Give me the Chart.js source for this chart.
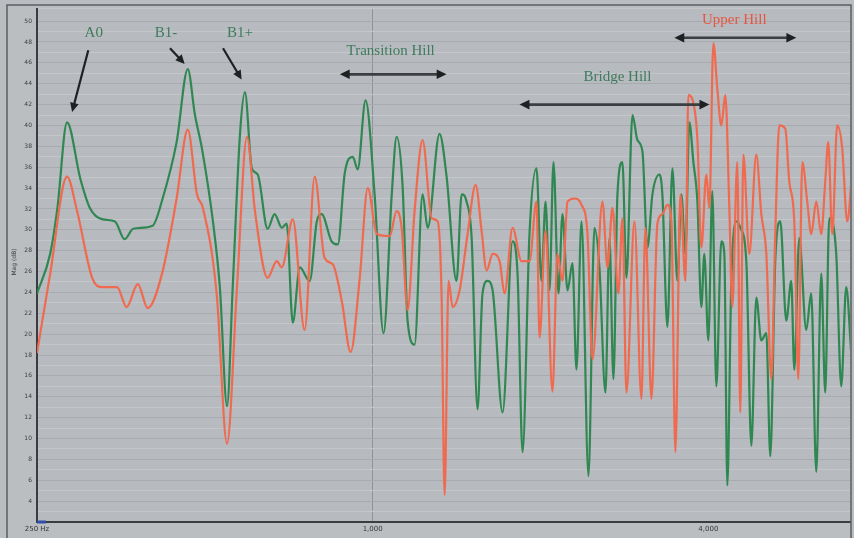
<!DOCTYPE html>
<html>
<head>
<meta charset="utf-8">
<script src="https://cdn.jsdelivr.net/npm/chart.js@4.4.1/dist/chart.umd.min.js"></script>
<style>
  html, body { margin: 0; padding: 0; background: #bbbec1; }
  #wrap { width: 854px; height: 538px; }
</style>
</head>
<body>
<div id="wrap"><canvas id="chartOne" width="854" height="538"></canvas></div>
<script>
"use strict";

// green trace
let greenHz = [250, 264, 272, 283, 299, 311, 328, 345, 359, 372, 403, 420, 445, 466, 480, 494,
  517, 532, 548, 561, 578, 590, 607, 622, 648, 667, 687, 701, 719, 740, 771, 794, 810, 844, 866,
  891, 921, 940, 971, 1008, 1046, 1082, 1104, 1132, 1155, 1189, 1229, 1255, 1318, 1357, 1414,
  1444, 1474, 1505, 1542, 1574, 1607, 1641, 1710, 1782, 1819, 1857, 1911, 1967, 2008, 2042, 2076,
  2110, 2154, 2190, 2236, 2282, 2320, 2369, 2438, 2499, 2551, 2615, 2659, 2703, 2748, 2805, 2852,
  2924, 2984, 3047, 3110, 3175, 3268, 3308, 3378, 3448, 3520, 3578, 3638, 3698, 3760, 3823, 3886,
  3934, 4000, 4066, 4134, 4220, 4273, 4326, 4398, 4490, 4564, 4679, 4777, 4876, 4978, 5082, 5166,
  5273, 5384, 5519, 5634, 5704, 5823, 5993, 6118, 6246, 6376, 6482, 6590, 6783, 6924, 7069, 7216];
let greenDb = [23.9, 27.7, 32.1, 40.3, 34.9, 32.1, 31.0, 30.8, 29.1, 30.1, 30.4, 33.0, 38.4, 45.4,
  41.0, 37.8, 30.8, 24.5, 13.1, 24.5, 39.1, 43.2, 35.9, 35.3, 30.1, 31.5, 30.2, 30.6, 21.1, 26.4,
  25.1, 30.8, 31.5, 28.9, 28.6, 35.4, 37.0, 35.8, 42.4, 33.4, 20.1, 33.4, 38.9, 34.0, 21.3, 19.0,
  33.4, 30.2, 39.2, 35.1, 25.1, 33.4, 32.7, 29.2, 12.8, 23.9, 25.1, 24.2, 12.5, 28.9, 25.8, 8.7,
  29.6, 35.9, 25.1, 32.7, 24.2, 36.5, 23.9, 31.5, 24.2, 26.8, 16.6, 30.8, 6.4, 30.2, 26.4, 14.4,
  29.2, 15.7, 33.4, 36.5, 25.4, 41.0, 38.6, 37.5, 28.3, 33.4, 35.3, 33.4, 20.7, 35.9, 25.1, 33.4,
  27.7, 40.3, 36.5, 32.7, 22.6, 27.7, 19.4, 33.7, 15.0, 28.9, 27.7, 5.5, 25.1, 30.8, 30.2, 27.0,
  9.3, 23.5, 19.4, 20.1, 8.3, 27.0, 30.8, 21.3, 25.1, 16.6, 29.2, 20.4, 23.9, 6.8, 25.8, 14.4,
  31.1, 27.7, 15.0, 24.5, 18.2];

// red trace
let redHz = [250, 264, 283, 295, 314, 328, 348, 362, 379, 395, 419, 445, 466, 484, 496, 525, 548,
  571, 595, 615, 648, 673, 687, 719, 755, 787, 820, 848, 880, 913, 948, 980, 1017, 1073, 1104,
  1127, 1155, 1189, 1229, 1276, 1308, 1329, 1346, 1368, 1391, 1432, 1480, 1530, 1568, 1601, 1641,
  1689, 1724, 1782, 1849, 1911, 1967, 1992, 2042, 2101, 2145, 2190, 2236, 2301, 2369, 2428, 2479,
  2583, 2637, 2692, 2759, 2805, 2852, 2948, 3034, 3084, 3162, 3241, 3308, 3378, 3434, 3491, 3564,
  3638, 3683, 3745, 3823, 3886, 3967, 4017, 4084, 4151, 4220, 4290, 4362, 4416, 4508, 4564, 4622,
  4737, 4876, 4978, 5082, 5188, 5273, 5362, 5496, 5588, 5704, 5799, 5896, 6018, 6118, 6246, 6376,
  6482, 6563, 6672, 6811, 6953, 7098, 7246];
let redDb = [18.2, 25.8, 35.1, 31.8, 25.4, 24.5, 24.5, 22.6, 24.8, 22.5, 25.8, 33.0, 39.6, 33.4,
  32.1, 23.9, 9.5, 24.5, 38.9, 31.8, 25.4, 27.0, 26.4, 31.0, 20.4, 35.1, 27.3, 26.7, 23.2, 18.3,
  25.4, 34.0, 29.6, 29.4, 31.8, 30.2, 22.3, 31.8, 38.6, 31.1, 30.8, 23.9, 4.6, 25.1, 22.6, 24.2,
  29.6, 34.3, 29.9, 26.1, 27.7, 27.0, 23.9, 30.2, 27.0, 27.0, 32.7, 19.7, 29.9, 14.5, 27.7, 25.1,
  32.7, 33.0, 32.4, 29.6, 17.6, 32.7, 26.4, 32.1, 23.9, 31.1, 14.4, 30.8, 13.8, 30.2, 13.8, 30.6,
  31.5, 32.4, 30.8, 8.7, 33.4, 25.1, 42.9, 42.5, 38.7, 28.3, 35.3, 32.1, 47.9, 43.5, 40.0, 42.9,
  32.1, 22.6, 36.5, 12.5, 37.2, 27.7, 37.2, 31.5, 27.7, 15.7, 29.6, 40.0, 39.7, 34.6, 30.8, 15.7,
  36.5, 32.7, 29.6, 32.7, 29.6, 34.6, 38.4, 29.6, 40.0, 37.8, 30.8, 35.6];

let freqTicks = [250, 1000, 4000];
let freqLabels = ["250 Hz", "1,000", "4,000"];
let dbLabels = [4, 6, 8, 10, 12, 14, 16, 18, 20, 22, 24, 26, 28, 30, 32, 34, 36, 38, 40, 42, 44, 46, 48, 50];

// text notes and arrows, placed in Hz / dB
let labels = [
  { text: "A0", hz: 316, db: 48.9, color: "#3f7b5d" },
  { text: "B1-", hz: 426, db: 48.9, color: "#3f7b5d" },
  { text: "B1+", hz: 578, db: 48.9, color: "#3f7b5d" },
  { text: "Transition Hill", hz: 1077, db: 47.1, color: "#3f7b5d" },
  { text: "Bridge Hill", hz: 2748, db: 44.6, color: "#3f7b5d" },
  { text: "Upper Hill", hz: 4453, db: 50.1, color: "#e8563f" },
];
let pointers = [
  { from: [309, 47.2], to: [289, 41.3] },
  { from: [433, 47.4], to: [460, 45.9] },
  { from: [539, 47.4], to: [582, 44.4] },
];
let spans = [
  { from: 873, to: 1357, db: 44.9 },
  { from: 1834, to: 4017, db: 42.0 },
  { from: 3476, to: 5752, db: 48.4 },
];

function toPoints(xs, ys) {
  return xs.map((x, i) => ({ x: x, y: ys[i] }));
}

function head(c, x0, y0, x1, y1, size) {
  let a = Math.atan2(y1 - y0, x1 - x0);
  c.beginPath();
  c.moveTo(x1, y1);
  c.lineTo(x1 - size * Math.cos(a - 0.45), y1 - size * Math.sin(a - 0.45));
  c.lineTo(x1 - size * Math.cos(a + 0.45), y1 - size * Math.sin(a + 0.45));
  c.closePath();
  c.fill();
}

let backdrop = {
  id: "backdrop",
  beforeDraw(chart) {
    let c = chart.ctx;
    let a = chart.chartArea;
    c.save();
    c.fillStyle = "#bbbec1";
    c.fillRect(0, 0, chart.width, chart.height);
    c.fillStyle = "#b7babe";
    c.fillRect(a.left, a.top, a.right - a.left, a.bottom - a.top);
    c.restore();
  },
  afterDraw(chart) {
    let c = chart.ctx;
    let a = chart.chartArea;
    let sx = chart.scales.x;
    let sy = chart.scales.y;
    c.save();

    // frame
    c.strokeStyle = "#5b5e61";
    c.lineWidth = 1.5;
    c.beginPath();
    c.moveTo(7, 538);
    c.lineTo(7, 5);
    c.lineTo(851, 5);
    c.lineTo(851, 538);
    c.stroke();

    c.strokeStyle = "#2f4fa8";
    c.lineWidth = 3;
    c.beginPath();
    c.moveTo(a.left, a.bottom);
    c.lineTo(a.left + 9, a.bottom);
    c.stroke();

    // y title
    c.translate(14, 262);
    c.rotate(-Math.PI / 2);
    c.fillStyle = "#3a3d40";
    c.font = "6px 'DejaVu Sans'";
    c.textAlign = "center";
    c.textBaseline = "middle";
    c.fillText("Mag (dB)", 0, 0);
    c.restore();

    c.save();
    c.font = "15px 'Liberation Serif'";
    c.textAlign = "center";
    c.textBaseline = "middle";
    labels.forEach((l) => {
      c.fillStyle = l.color;
      c.fillText(l.text, sx.getPixelForValue(l.hz), sy.getPixelForValue(l.db));
    });

    c.strokeStyle = "#1f2022";
    c.fillStyle = "#1f2022";
    c.lineWidth = 2.2;
    pointers.forEach((p) => {
      let x0 = sx.getPixelForValue(p.from[0]);
      let y0 = sy.getPixelForValue(p.from[1]);
      let x1 = sx.getPixelForValue(p.to[0]);
      let y1 = sy.getPixelForValue(p.to[1]);
      c.beginPath();
      c.moveTo(x0, y0);
      c.lineTo(x1 - (x1 - x0) * 0.12, y1 - (y1 - y0) * 0.12);
      c.stroke();
      head(c, x0, y0, x1, y1, 10);
    });

    c.lineWidth = 2.6;
    c.strokeStyle = "#3c3e41";
    spans.forEach((s) => {
      let x0 = sx.getPixelForValue(s.from);
      let x1 = sx.getPixelForValue(s.to);
      let y = sy.getPixelForValue(s.db);
      c.beginPath();
      c.moveTo(x0 + 6, y);
      c.lineTo(x1 - 6, y);
      c.stroke();
      head(c, x1, y, x0, y, 11);
      head(c, x0, y, x1, y, 11);
    });
    c.restore();
  },
};

let ctxOne = document.getElementById("chartOne").getContext("2d");
let chartOne = new Chart(ctxOne, {
  type: "line",
  data: {
    datasets: [
      {
        label: "green",
        data: toPoints(greenHz, greenDb),
        borderColor: "#2f8752",
        borderWidth: 2.2,
        pointRadius: 0,
        cubicInterpolationMode: "monotone",
        order: 2,
      },
      {
        label: "red",
        data: toPoints(redHz, redDb),
        borderColor: "#f06a50",
        borderWidth: 2.2,
        pointRadius: 0,
        cubicInterpolationMode: "monotone",
        order: 1,
      },
    ],
  },
  options: {
    responsive: false,
    animation: false,
    layout: { padding: { left: 7, top: 5, right: 4, bottom: 0 } },
    plugins: {
      legend: { display: false },
      tooltip: { enabled: false },
    },
    scales: {
      x: {
        type: "logarithmic",
        min: 250,
        max: 7180,
        afterBuildTicks(scale) {
          scale.ticks = freqTicks.map((v) => ({ value: v }));
        },
        afterFit(scale) {
          scale.height = 16;
        },
        ticks: {
          autoSkip: false,
          maxRotation: 0,
          padding: 3,
          color: "#333538",
          font: { size: 7, family: "DejaVu Sans" },
          callback: (v) => freqLabels[freqTicks.indexOf(v)] || "",
        },
        grid: {
          drawTicks: false,
          color: (ctx) => (ctx.tick && ctx.tick.value === 1000 ? "#8f9296" : "rgba(0,0,0,0)"),
          lineWidth: 1,
        },
        border: { display: true, color: "#3a3d40", width: 2 },
      },
      y: {
        min: 2,
        max: 51.2,
        afterFit(scale) {
          scale.width = 30;
        },
        ticks: {
          stepSize: 1,
          autoSkip: false,
          padding: 5,
          color: "#3a3d40",
          font: { size: 6, family: "DejaVu Sans" },
          callback: (v) => (dbLabels.includes(v) ? String(v) : ""),
        },
        grid: {
          drawTicks: false,
          color: (ctx) => (ctx.tick && ctx.tick.value % 2 === 0 ? "#a7aaae" : "#c4c7ca"),
          lineWidth: 1,
        },
        border: { display: true, color: "#3a3d40", width: 2 },
      },
    },
  },
  plugins: [backdrop],
});
</script>
</body>
</html>
